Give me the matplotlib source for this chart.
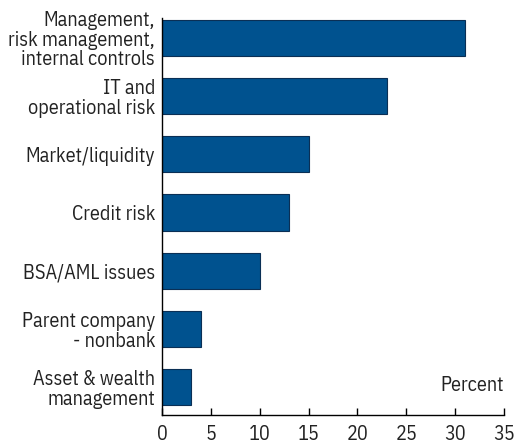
import numpy as np
import matplotlib.pyplot as plt

plt.rcParams['font.family'] = ['IBM Plex Sans Condensed', 'Roboto', 'DejaVu Sans']

# data
categories = ['Management,\nrisk management,\ninternal controls',
              'IT and\noperational risk',
              'Market/liquidity',
              'Credit risk',
              'BSA/AML issues',
              'Parent company\n- nonbank',
              'Asset & wealth\nmanagement']
values = [31, 23, 15, 13, 10, 4, 3]
xticks = [0, 5, 10, 15, 20, 25, 30, 35]

fig = plt.figure(figsize=(5.17, 4.46), dpi=100)
ax = fig.add_axes([0.3133, 0.0695, 0.6617, 0.89])

ypos = np.arange(len(values))
ax.barh(ypos, values, height=0.62, color='#00528f', edgecolor='#0a2f55', linewidth=0.8)
ax.set_ylim(len(values) - 1 + 0.48, -0.34)
ax.set_xlim(0, 35)
ax.set_yticks(ypos)
ax.set_yticklabels(categories, fontsize=14.5, linespacing=1.05, color='#222222')
ax.set_xticks(xticks)
ax.set_xticklabels([str(t) for t in xticks], fontsize=14.5, color='#222222')
ax.tick_params(axis='y', length=0, pad=5)
ax.tick_params(axis='x', direction='in', length=5, width=1, pad=7)
for s in ['top', 'right']:
    ax.spines[s].set_visible(False)
ax.spines['left'].set_linewidth(1)
ax.spines['bottom'].set_linewidth(1)
ax.text(1.0, 0.06, 'Percent', transform=ax.transAxes, ha='right', va='baseline',
        fontsize=14.5, color='#222222')

fig.savefig('out.png', dpi=100)
